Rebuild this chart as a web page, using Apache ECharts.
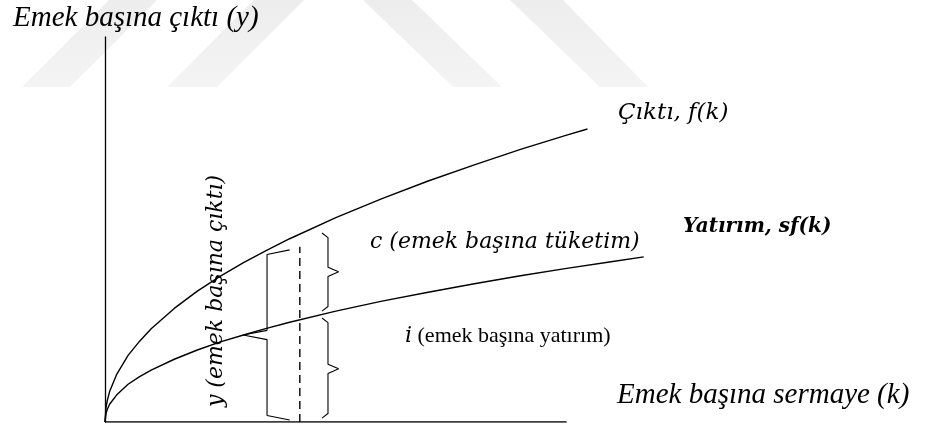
<!DOCTYPE html>
<html>
<head>
<meta charset="utf-8">
<script src="https://cdn.jsdelivr.net/npm/echarts@6/dist/echarts.min.js"></script>
<style>
  html, body { margin: 0; padding: 0; background: #fff; }
  #chart { width: 938px; height: 433px; }
</style>
</head>
<body>
<div id="chart"></div>
<script>
// capital per worker (k) and the two curves
const kOutput = [0, 0.02, 0.05, 0.1, 0.25, 0.5, 0.75, 1, 1.5, 2, 2.5, 3, 3.5, 4, 5, 6, 7, 8, 9, 10, 10.45];
const output = [0, 0.36, 0.56, 0.79, 1.23, 1.73, 2.10, 2.42, 2.95, 3.40, 3.79, 4.14, 4.46, 4.76, 5.31, 5.80, 6.26, 6.68, 7.08, 7.45, 7.61];

const kInvest = [0, 0.02, 0.05, 0.1, 0.25, 0.5, 0.75, 1, 1.5, 2, 2.5, 3, 3.5, 4, 5, 6, 7, 8, 9, 10, 11, 11.67];
const investment = [0, 0.21, 0.33, 0.46, 0.70, 0.98, 1.18, 1.35, 1.63, 1.87, 2.08, 2.26, 2.43, 2.59, 2.88, 3.14, 3.37, 3.59, 3.80, 3.99, 4.17, 4.29];

// horizontal axis is drawn only up to here
const kAxisEnd = 10;

// dashed guide: [k, top]
const guideLine = [4.22, 4.55];

// braces: [k, top, middle, bottom]
const braceY = [3.51, 4.47, 2.26, 0.05];   // y, cusp to the left
const braceC = [4.83, 4.91, 3.90, 2.88];   // c, cusp to the right
const braceI = [4.83, 2.70, 1.38, 0.10];   // i, cusp to the right

function pairs(xs, ys) {
  return xs.map((x, i) => [x, ys[i]]);
}

// side = -1 : cusp to the left "{", side = 1 : cusp to the right "}"
function bracePoints(b, side) {
  const x = b[0], top = b[1], mid = b[2], bot = b[3];
  const hook = side < 0 ? 0.49 : 0.13;
  const cusp = side < 0 ? 0.52 : 0.23;
  const d = 0.12;
  return [
    [x - side * hook, top],
    [x, top - d],
    [x, mid + d],
    [x + side * cusp, mid],
    [x, mid - d],
    [x, bot + d],
    [x - side * hook, bot]
  ];
}

const chart = echarts.init(document.getElementById('chart'));

const black = '#000';
const lineSeries = (data, width, extra) => Object.assign({
  type: 'line',
  data: data,
  showSymbol: false,
  symbol: 'none',
  silent: true,
  animation: false,
  lineStyle: { color: black, width: width }
}, extra || {});

const mathFont = 'italic 22px "DejaVu Serif"';
const stripe = {
  type: 'linear', x: 0, y: 0, x2: 0, y2: 1,
  colorStops: [{ offset: 0, color: '#ededed' }, { offset: 1, color: '#f4f4f4' }]
};

chart.setOption({
  animation: false,
  grid: { left: 105, right: 279, top: 37, bottom: 11 },
  xAxis: {
    type: 'value', min: 0, max: 12,
    axisLine: { show: false },
    axisTick: { show: false }, axisLabel: { show: false }, splitLine: { show: false }
  },
  yAxis: {
    type: 'value', min: 0, max: 10,
    axisLine: { show: true, onZero: false, lineStyle: { color: black, width: 1.3 } },
    axisTick: { show: false }, axisLabel: { show: false }, splitLine: { show: false }
  },
  series: [
    lineSeries([[0, 0], [kAxisEnd, 0]], 1.3),
    lineSeries(pairs(kOutput, output), 1.4),
    lineSeries(pairs(kInvest, investment), 1.4),
    lineSeries([[guideLine[0], 0], [guideLine[0], guideLine[1]]], 1.4,
      { lineStyle: { color: black, width: 1.4, type: [8, 5] } }),
    lineSeries(bracePoints(braceY, -1), 1.1),
    lineSeries(bracePoints(braceC, 1), 1.1),
    lineSeries(bracePoints(braceI, 1), 1.1)
  ],
  graphic: [
    // faint watermark stripes
    { type: 'polygon', z: -10, silent: true, shape: { points: [[109, 0], [157, 0], [70, 87], [22, 87]] }, style: { fill: stripe } },
    { type: 'polygon', z: -10, silent: true, shape: { points: [[254, 0], [304, 0], [217, 87], [167, 87]] }, style: { fill: stripe } },
    { type: 'polygon', z: -10, silent: true, shape: { points: [[363, 0], [412, 0], [502, 87], [453, 87]] }, style: { fill: stripe } },
    { type: 'polygon', z: -10, silent: true, shape: { points: [[510, 0], [563, 0], [648, 87], [600, 87]] }, style: { fill: stripe } },

    { type: 'text', left: 13, top: 4, style: { text: 'Emek başına çıktı (y)', font: 'italic 29px "Liberation Serif"', fill: black } },
    { type: 'text', left: 617, top: 381, style: { text: 'Emek başına sermaye (k)', font: 'italic 29px "Liberation Serif"', fill: black } },
    { type: 'text', left: 618, top: 102, style: { text: 'Çıktı, f(k)', font: 'italic 23px "DejaVu Serif"', fill: black } },
    { type: 'text', left: 683, top: 217, style: { text: 'Yatırım, sf(k)', font: 'italic bold 20px "DejaVu Serif"', fill: black } },
    { type: 'text', left: 370, top: 231, style: { text: 'c (emek başına tüketim)', font: mathFont, fill: black } },
    {
      type: 'text', left: 405, top: 325,
      style: {
        text: '{m|i} (emek başına yatırım)',
        font: '22px "Liberation Serif"', fill: black,
        rich: { m: { font: mathFont } }
      }
    },
    {
      type: 'text', x: 216, y: 291, rotation: Math.PI / 2,
      style: { text: 'y (emek başına çıktı)', font: mathFont, fill: black, align: 'center', verticalAlign: 'middle' }
    }
  ]
});
</script>
</body>
</html>
